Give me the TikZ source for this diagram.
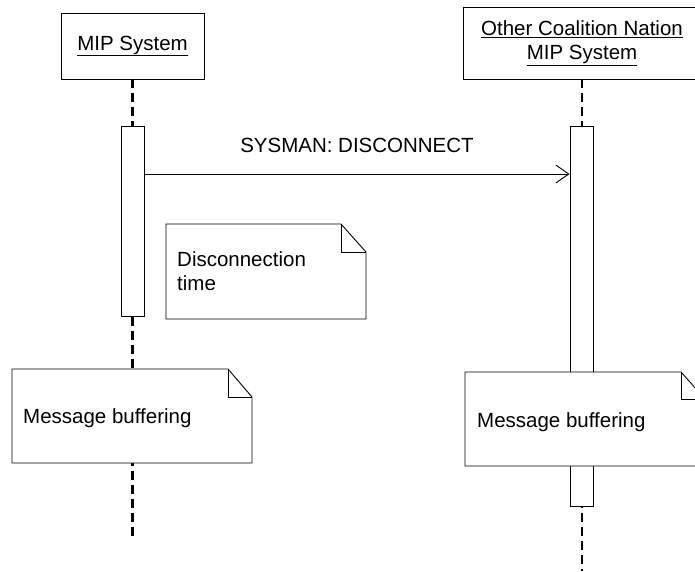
\documentclass[tikz,border=0pt]{standalone}
\usepackage{fontspec}
\setmainfont{Liberation Sans}
\usetikzlibrary{arrows.meta}
\begin{document}
\begin{tikzpicture}[x=1pt,y=-1pt,
  every node/.style={font=\fontsize{20.5}{24}\selectfont},
  objbox/.style={draw,line width=0.9pt,fill=white,align=center},
  actbox/.style={draw,line width=0.9pt,fill=white,minimum width=23pt,inner sep=0pt},
  lifeline/.style={line width=2.4pt,dash pattern=on 9pt off 5pt},
  notefold/.style={draw,line width=0.9pt,fill=white,line join=miter},
  notetext/.style={inner sep=0pt,align=left},
  msg/.style={line width=0.9pt,-{Straight Barb[length=13pt,width=18pt,line width=0.9pt]}}
]
\useasboundingbox (0,0) rectangle (695,571);
% headers
\node[objbox,minimum width=143pt,minimum height=66pt] (h1) at (132.5,46) {\underline{MIP System}};
\node[objbox,minimum width=238pt,minimum height=72pt] (h2) at (582,43) {\underline{Other Coalition Nation}\\\underline{MIP System}};
% lifeline ends
\coordinate (e1) at (132.5,538);
\coordinate (e2) at (582,571);
\draw[lifeline] (h1.south) -- (e1);
\draw[lifeline] (h2.south) -- (e2);
% activations
\node[actbox,minimum height=190pt] (a1) at (132.5,221) {};
\node[actbox,minimum height=380pt] (a2) at (581.5,316) {};
% message
\draw[msg] (a1.east |- 0,174) -- (a2.west |- 0,174) node[midway,above=21pt,inner sep=0pt] (m) {SYSMAN: DISCONNECT};
% note: disconnection time
\draw[notefold] (166,224) -- (341,224) -- (366,252) -- (366,319) -- (166,319) -- cycle;
\draw[line width=0.9pt] (341,224) -- (341,252) -- (366,252);
\node[notetext,anchor=north west] (n1) at (177,251.5) {Disconnection\\time};
% note: left message buffering
\draw[notefold] (12,369) -- (228,369) -- (252,397) -- (252,463) -- (12,463) -- cycle;
\draw[line width=0.9pt] (228,369) -- (228,397) -- (252,397);
\node[notetext,anchor=base west] (n2) at (23,423) {Message buffering};
% note: right message buffering
\draw[notefold] (465,372) -- (681,372) -- (705,399) -- (705,466) -- (465,466) -- cycle;
\draw[line width=0.9pt] (681,372) -- (681,399) -- (705,399);
\node[notetext,anchor=base west] (n3) at (477,427) {Message buffering};
\end{tikzpicture}
\end{document}
